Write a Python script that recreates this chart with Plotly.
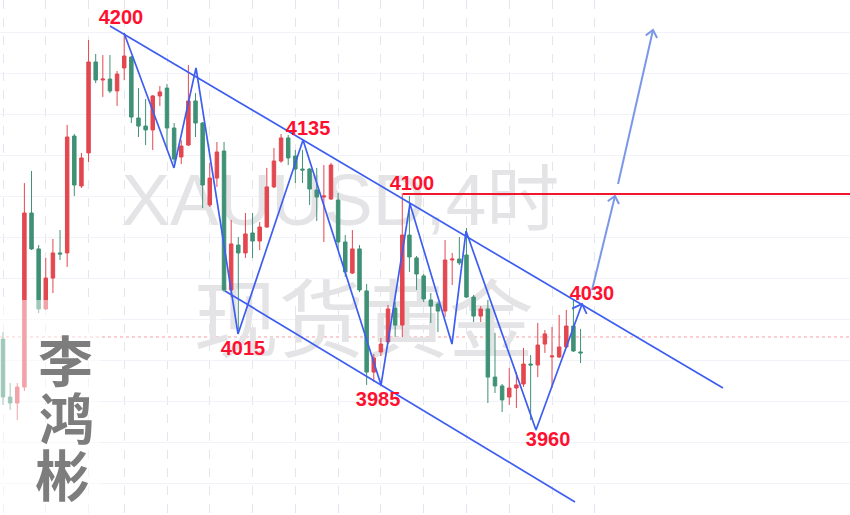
import math
import plotly.graph_objects as go

W, H = 850, 515
X_MIN, X_MAX = -0.4208, 118.79
Y_MIN, Y_MAX = 3900.63, 4220.5

# ---------------- data ----------------
idx = list(range(82))
opens = [4009.9, 3973.9, 3970.2, 3980.1, 4088.2, 4065.9, 4028.6, 4047.8, 4063.4, 4063.4,
         4136.0, 4105.0, 4125.5, 4182.0, 4170.8, 4171.4, 4164.0, 4178.3, 4185.1, 4147.2,
         4142.2, 4139.8, 4160.9, 4165.8, 4141.0, 4123.0, 4130.4, 4157.8, 4144.1, 4093.2,
         4109.9, 4126.7, 4040.4, 4068.3, 4063.4, 4075.8, 4070.8, 4079.5, 4104.4, 4120.5,
         4134.8, 4123.6, 4115.5, 4115.5, 4102.5, 4098.1, 4096.9, 4096.3, 4070.2, 4050.9,
         4065.9, 4039.8, 3989.4, 4001.9, 4008.1, 4029.2, 4018.6, 4074.5, 4060.3, 4049.1,
         4034.2, 4031.7, 4027.3, 4059.0, 4059.6, 4062.1, 4036.0, 4024.2, 4028.6, 3986.3,
         3980.8, 3973.9, 3979.5, 3982.0, 3994.4, 3993.8, 4006.8, 3998.8, 3998.8, 4005.0,
         4018.0, 4001.9]
highs = [4014.3, 3982.6, 3982.6, 4106.8, 4114.3, 4068.3, 4060.3, 4072.1, 4077.6, 4142.9,
         4137.3, 4125.5, 4195.7, 4187.0, 4186.3, 4186.3, 4176.4, 4200.0, 4185.7, 4165.8,
         4159.0, 4161.5, 4167.1, 4168.3, 4144.1, 4133.5, 4180.1, 4162.7, 4144.7, 4119.3,
         4132.3, 4132.3, 4083.9, 4073.3, 4088.2, 4088.2, 4082.6, 4116.2, 4128.6, 4137.3,
         4136.7, 4127.3, 4127.3, 4116.2, 4116.2, 4118.0, 4119.3, 4100.6, 4074.5, 4077.6,
         4068.3, 4044.1, 4000.6, 4010.6, 4031.1, 4032.9, 4100.6, 4098.8, 4061.5, 4050.3,
         4038.5, 4032.9, 4071.4, 4063.4, 4073.3, 4078.9, 4037.3, 4030.4, 4034.2, 4013.7,
         3982.0, 3991.9, 3989.4, 4004.4, 4000.0, 4019.9, 4015.5, 4017.4, 4024.9, 4028.0,
         4034.2, 4016.2]
lows = [3969.0, 3965.9, 3959.6, 3977.6, 4065.2, 4026.1, 4028.0, 4038.5, 4059.0, 4054.7,
        4098.8, 4103.7, 4119.9, 4168.9, 4160.3, 4162.7, 4154.7, 4170.8, 4144.1, 4135.4,
        4130.4, 4127.3, 4154.7, 4127.3, 4119.3, 4118.6, 4129.8, 4135.4, 4091.3, 4091.9,
        4104.4, 4039.1, 4036.0, 4014.3, 4060.3, 4060.3, 4065.2, 4078.9, 4103.7, 4119.3,
        4118.0, 4106.8, 4106.8, 4093.2, 4083.2, 4070.2, 4096.3, 4065.2, 4048.5, 4050.3,
        4039.1, 3981.4, 3983.2, 3999.4, 4006.8, 4011.2, 4011.2, 4051.6, 4040.4, 4032.9,
        4019.9, 4014.3, 4023.6, 4043.5, 4055.9, 4035.4, 4020.5, 4020.5, 3970.2, 3976.4,
        3964.6, 3969.0, 3967.1, 3980.1, 3959.6, 3986.3, 4001.3, 3979.5, 3998.1, 4004.4,
        4001.9, 3995.0]
closes = [3973.9, 3970.2, 3980.1, 4088.2, 4065.9, 4028.6, 4047.8, 4063.4, 4062.7, 4135.4,
          4105.6, 4122.4, 4182.0, 4170.8, 4171.4, 4164.0, 4174.5, 4185.7, 4147.8, 4142.2,
          4139.8, 4160.9, 4163.4, 4141.0, 4121.7, 4129.8, 4157.8, 4144.1, 4105.6, 4109.9,
          4126.1, 4040.4, 4069.0, 4063.4, 4075.2, 4070.8, 4079.5, 4104.4, 4120.5, 4134.8,
          4122.4, 4115.5, 4114.9, 4103.1, 4098.1, 4098.8, 4118.0, 4070.2, 4051.6, 4065.9,
          4040.4, 3989.4, 3998.1, 4006.8, 4028.6, 4018.6, 4074.5, 4060.9, 4050.3, 4034.8,
          4030.4, 4027.3, 4059.0, 4059.6, 4057.2, 4036.0, 4024.2, 4028.6, 3986.3, 3980.8,
          3972.1, 3979.5, 3981.4, 3994.4, 3993.8, 4006.2, 4013.1, 3999.4, 4005.0, 4018.0,
          4002.5, 4001.3]

# drawing-tool objects (candle index, price)
zigzag_x = [16.97, 23.98, 27.07, 32.96, 42.08, 53.02, 57.08, 62.97, 64.94, 74.75, 81.21]
zigzag_y = [4200.0, 4116.2, 4178.3, 4013.1, 4133.5, 3981.4, 4093.8, 4006.8, 4077.0, 3953.4, 4031.7]
upper_x = [15.01, 100.98]
upper_y = [4204.3, 3979.5]
lower_x = [31.14, 80.22]
lower_y = [4039.8, 3908.7]
arrow1_x = [82.61, 85.83]
arrow1_y = [4040.4, 4098.8]
arrow2_x = [86.26, 91.16]
arrow2_y = [4106.2, 4201.9]
level_start = 56.1
level_price = 4100.0
last_price = 4011.2

label_texts = ["4200", "4135", "4100", "4030", "4015", "3985", "3960"]
label_x = [16.55, 42.78, 57.36, 82.6, 33.66, 52.6, 76.44]
label_y = [4208.7, 4139.8, 4105.6, 4037.3, 4003.1, 3971.4, 3946.6]

grid_x = [0, 6, 12, 17, 23, 29, 35, 41, 47, 53, 59, 65, 71, 77, 83]

# ---------------- helpers ----------------
def to_px(i, p):
    return ((i - X_MIN) / (X_MAX - X_MIN) * W, (Y_MAX - p) / (Y_MAX - Y_MIN) * H)

def from_px(x, y):
    return (X_MIN + x / W * (X_MAX - X_MIN), Y_MAX - y / H * (Y_MAX - Y_MIN))

def chevron(tail, tip, length, ang):
    x0, y0 = to_px(*tail)
    x1, y1 = to_px(*tip)
    dx, dy = x0 - x1, y0 - y1
    n = math.hypot(dx, dy)
    ux, uy = dx / n, dy / n
    pts = []
    for s in (1, -1):
        a = math.radians(ang) * s
        rx = ux * math.cos(a) - uy * math.sin(a)
        ry = ux * math.sin(a) + uy * math.cos(a)
        pts.append(from_px(x1 + rx * length, y1 + ry * length))
    return [pts[0], tip, pts[1]]

BLUE = "#3d5ef0"
LBLUE = "#7b97e8"
RED = "#e3474f"
GREEN = "#3f9176"
LABEL_RED = "#ff1030"

fig = go.Figure()

# watermark (bottom subplot, drawn under candles)
fig.add_trace(go.Scatter(x=[47.3], y=[4092.0], mode="text", text=["XAUUSD,4时"],
                         textfont=dict(size=73, color="#e4e4e7", family="Liberation Sans, Noto Sans CJK SC"),
                         hoverinfo="skip", showlegend=False, xaxis="x", yaxis="y"))
fig.add_trace(go.Scatter(x=[50.6], y=[4016.0], mode="text", text=["现货黄金"],
                         textfont=dict(size=85, color="#e4e4e7", family="Noto Sans CJK SC"),
                         hoverinfo="skip", showlegend=False, xaxis="x", yaxis="y"))

# candles (overlay subplot)
fig.add_trace(go.Candlestick(
    x=idx, open=opens, high=highs, low=lows, close=closes,
    increasing=dict(line=dict(color=RED, width=1), fillcolor=RED),
    decreasing=dict(line=dict(color=GREEN, width=1), fillcolor=GREEN),
    whiskerwidth=0, hoverinfo="skip", showlegend=False, xaxis="x2", yaxis="y2"))

# red level line
fig.add_trace(go.Scatter(x=[level_start, X_MAX + 5], y=[level_price, level_price], mode="lines",
                         line=dict(color="#f0162d", width=2), hoverinfo="skip",
                         showlegend=False, xaxis="x2", yaxis="y2"))

# channel lines
for xs, ys in ((upper_x, upper_y), (lower_x, lower_y)):
    fig.add_trace(go.Scatter(x=xs, y=ys, mode="lines", line=dict(color=BLUE, width=1.7),
                             hoverinfo="skip", showlegend=False, xaxis="x2", yaxis="y2"))

# zigzag + head
zz_head = chevron((zigzag_x[-2], zigzag_y[-2]), (zigzag_x[-1], zigzag_y[-1]), 11, 45)
fig.add_trace(go.Scatter(x=zigzag_x, y=zigzag_y, mode="lines", line=dict(color=BLUE, width=1.7),
                         hoverinfo="skip", showlegend=False, xaxis="x2", yaxis="y2"))
fig.add_trace(go.Scatter(x=[p[0] for p in zz_head], y=[p[1] for p in zz_head], mode="lines",
                         line=dict(color=BLUE, width=1.7), hoverinfo="skip",
                         showlegend=False, xaxis="x2", yaxis="y2"))

# light projection arrows
for xs, ys in ((arrow1_x, arrow1_y), (arrow2_x, arrow2_y)):
    head = chevron((xs[0], ys[0]), (xs[1], ys[1]), 9, 40)
    fig.add_trace(go.Scatter(x=xs, y=ys, mode="lines", line=dict(color=LBLUE, width=2),
                             hoverinfo="skip", showlegend=False, xaxis="x2", yaxis="y2"))
    fig.add_trace(go.Scatter(x=[p[0] for p in head], y=[p[1] for p in head], mode="lines",
                             line=dict(color=LBLUE, width=2), hoverinfo="skip",
                             showlegend=False, xaxis="x2", yaxis="y2"))

# labels
fig.add_trace(go.Scatter(x=label_x, y=label_y, mode="text", text=label_texts,
                         textfont=dict(size=20, color=LABEL_RED, family="Liberation Sans", weight="bold"),
                         hoverinfo="skip", showlegend=False, xaxis="x2", yaxis="y2"))

shapes = [
    dict(type="line", xref="paper", yref="y", x0=0, x1=1, y0=last_price, y1=last_price,
         line=dict(color="rgba(240,80,90,0.55)", width=1, dash="dot"), layer="below"),
    dict(type="rect", xref="paper", yref="paper", x0=0, x1=100 / W, y0=0, y1=1 - 300 / H,
         fillcolor="rgba(255,255,255,0.5)", line=dict(width=0), layer="above"),
]

calli = [("李", 65, 358), ("鸿", 66, 415), ("彬", 63, 472)]
annotations = []
for ch, px, py in calli:
    annotations.append(dict(text=ch, xref="paper", yref="paper", x=px / W, y=1 - py / H,
                            xanchor="center", yanchor="middle", showarrow=False,
                            font=dict(size=55, color="#7d7d7d", family="Noto Sans CJK SC", weight="bold")))

axis_common = dict(showticklabels=False, zeroline=False, showline=False, ticks="")
fig.update_layout(
    width=W, height=H, margin=dict(l=0, r=0, t=0, b=0),
    paper_bgcolor="white", plot_bgcolor="white", showlegend=False,
    xaxis=dict(range=[X_MIN, X_MAX], tickmode="array", tickvals=grid_x, showgrid=True,
               gridcolor="#e3e6ee", griddash="dash", gridwidth=1, **axis_common),
    yaxis=dict(range=[Y_MIN, Y_MAX], tick0=4200.6, dtick=25.465, showgrid=True,
               gridcolor="#f1f3f8", gridwidth=1, **axis_common),
    xaxis2=dict(range=[X_MIN, X_MAX], overlaying="x", showgrid=False, rangeslider=dict(visible=False),
                **axis_common),
    yaxis2=dict(range=[Y_MIN, Y_MAX], overlaying="y", showgrid=False, **axis_common),
    shapes=shapes, annotations=annotations,
)
fig.update_xaxes(rangeslider_visible=False)

fig.write_html("out.html", config={"displayModeBar": False},
               post_script="document.body.style.margin='0px';document.body.style.overflow='hidden';")
